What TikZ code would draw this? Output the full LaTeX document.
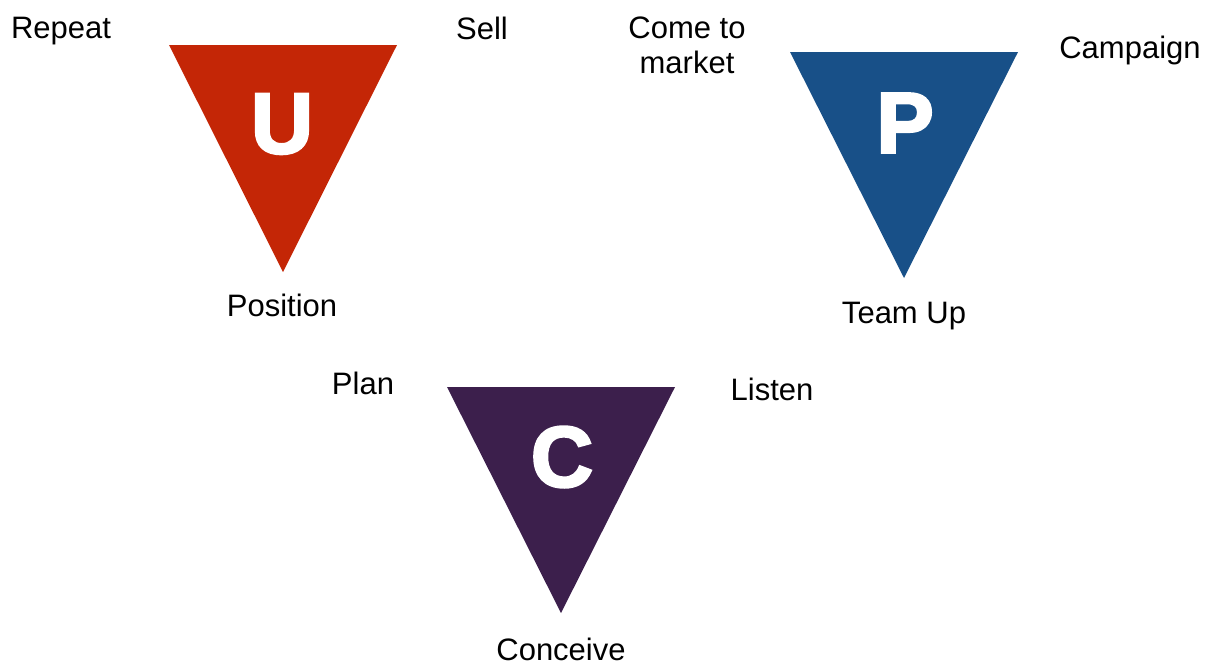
\documentclass[tikz,border=0pt]{standalone}
\usepackage{fontspec}
\setmainfont{Liberation Sans}
\newfontfamily\letterfont[FakeBold=3]{Liberation Sans Bold}
\usepackage{tikz}

\definecolor{ured}{RGB}{196,38,6}
\definecolor{pblue}{RGB}{24,80,136}
\definecolor{cpurple}{RGB}{60,31,76}

\begin{document}
\begin{tikzpicture}[x=0.5pt,y=-0.5pt,
    every node/.style={font=\fontsize{15.5}{17.5}\selectfont,inner sep=0,anchor=base},
    letter/.style={font=\letterfont\fontsize{43}{43}\selectfont,text=white,anchor=center}]
  \useasboundingbox (0,0) rectangle (1214,665);
  \fill[ured] (169,45) -- (397,45) -- (283,272) -- cycle;
  \fill[pblue] (790,52) -- (1018,52) -- (904,278) -- cycle;
  \fill[cpurple] (447,387) -- (675,387) -- (561,613) -- cycle;
  \node[letter] (U) at (282,124) {U};
  \node[letter] (P) at (905,123) {P};
  \node[letter] (C) at (562,457) {C};
  \node (repeat) at (61,38) {Repeat};
  \node (sell) at (482,39) {Sell};
  \node (position) at (282,316) {Position};
  \node[align=center] (market) at (687,73) {Come to\\market};
  \node (campaign) at (1130,58) {Campaign};
  \node (teamup) at (904,323) {Team Up};
  \node (plan) at (363,394) {Plan};
  \node (listen) at (772,400) {Listen};
  \node (conceive) at (561,660) {Conceive};
\end{tikzpicture}
\end{document}
